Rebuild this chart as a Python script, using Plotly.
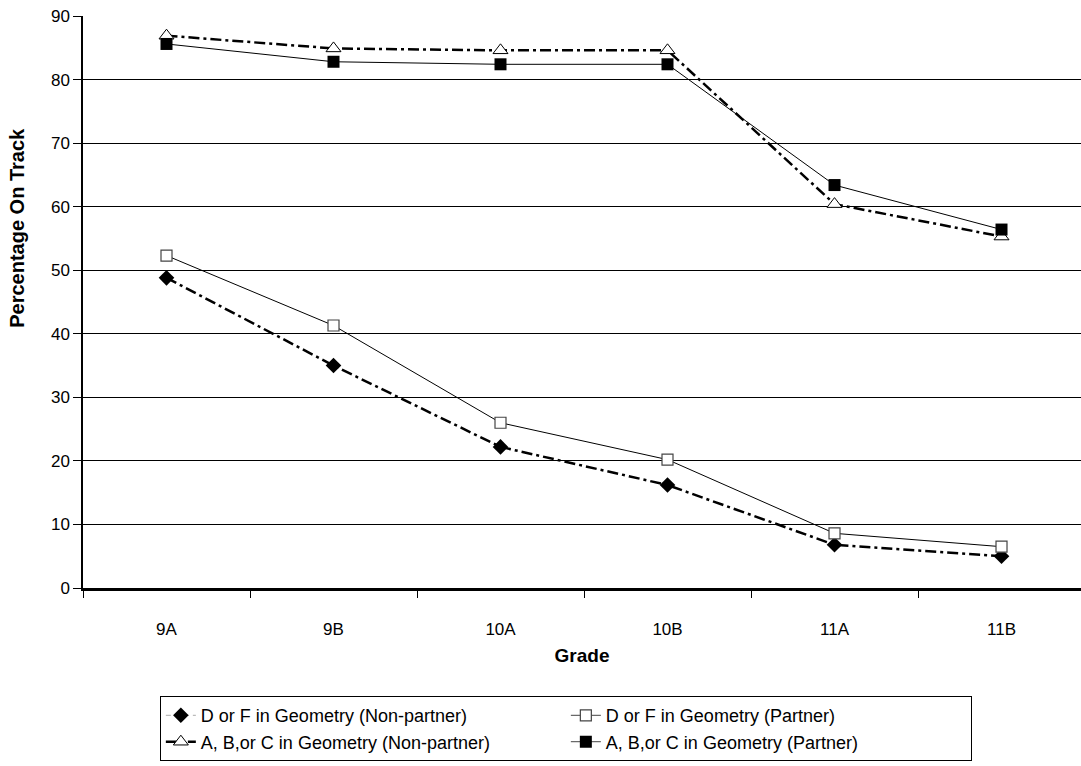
import plotly.graph_objects as go

grades = ["9A", "9B", "10A", "10B", "11A", "11B"]
df_nonpartner = [48.8, 35.0, 22.2, 16.2, 6.8, 5.0]
df_partner = [52.3, 41.3, 26.0, 20.2, 8.6, 6.5]
abc_nonpartner = [86.9, 84.9, 84.6, 84.6, 60.4, 55.3]
abc_partner = [85.6, 82.8, 82.4, 82.4, 63.4, 56.4]

names = [
    "D or F in Geometry (Non-partner)",
    "D or F in Geometry (Partner)",
    "A, B,or C in Geometry (Non-partner)",
    "A, B,or C in Geometry (Partner)",
]
y_ticks = [0, 10, 20, 30, 40, 50, 60, 70, 80, 90]
x_title = "Grade"
y_title = "Percentage On Track"

FONT = "Liberation Sans, Arial, sans-serif"
dashdot = "11px,4px,3px,4px"

fig = go.Figure()

fig.add_trace(go.Scatter(
    x=grades, y=df_nonpartner, mode="lines+markers", name=names[0], showlegend=False,
    line=dict(color="black", width=2.5, dash=dashdot),
    marker=dict(symbol="diamond", size=12, color="black", line=dict(color="black", width=0)),
))
fig.add_trace(go.Scatter(
    x=grades, y=df_partner, mode="lines+markers", name=names[1], showlegend=False,
    line=dict(color="black", width=1),
    marker=dict(symbol="square", size=11, color="white", line=dict(color="#444", width=1.2)),
))
fig.add_trace(go.Scatter(
    x=grades, y=abc_nonpartner, mode="lines+markers", name=names[2], showlegend=False,
    line=dict(color="black", width=2.5, dash=dashdot),
    marker=dict(symbol="triangle-up", size=13, color="white", line=dict(color="black", width=1)),
))
fig.add_trace(go.Scatter(
    x=grades, y=abc_partner, mode="lines+markers", name=names[3], showlegend=False,
    line=dict(color="black", width=1),
    marker=dict(symbol="square", size=12, color="black", line=dict(color="black", width=0)),
))

legend_styles = [
    dict(line=dict(color="#aaaaaa", width=1, dash="5px,4px"),
         marker=dict(symbol="diamond", size=12, color="black")),
    dict(line=dict(color="#444", width=1),
         marker=dict(symbol="square", size=11, color="white", line=dict(color="#444", width=1.2))),
    dict(line=dict(color="black", width=2.5, dash=dashdot),
         marker=dict(symbol="triangle-up", size=13, color="white", line=dict(color="black", width=1))),
    dict(line=dict(color="#444", width=1),
         marker=dict(symbol="square", size=12, color="black")),
]
for nm, st in zip(names, legend_styles):
    fig.add_trace(go.Scatter(x=[None], y=[None], mode="lines+markers", name=nm, **st))

fig.add_annotation(
    text="<b>" + y_title + "</b>", textangle=-90,
    xref="paper", yref="paper", x=-0.066, y=0.63, xanchor="center", yanchor="middle",
    showarrow=False, font=dict(family=FONT, size=20, color="black"),
)

fig.update_layout(
    width=1081, height=766,
    margin=dict(l=83, r=0, t=16, b=178),
    paper_bgcolor="white", plot_bgcolor="white",
    font=dict(family=FONT, size=17, color="black"),
    showlegend=True,
    legend=dict(
        orientation="h", x=0.077, xanchor="left", y=-0.189, yanchor="top",
        bordercolor="black", borderwidth=1, bgcolor="white",
        font=dict(family=FONT, size=18, color="black"),
        entrywidth=360, entrywidthmode="pixels",
        traceorder="normal", tracegroupgap=0,
    ),
    xaxis=dict(
        title=dict(text="<b>" + x_title + "</b>", font=dict(family=FONT, size=19), standoff=11),
        type="category", categoryorder="array", categoryarray=grades,
        tickson="boundaries", ticks="outside", ticklen=7, tickcolor="black",
        ticklabelstandoff=24,
        showline=True, linecolor="black", linewidth=2.5,
        showgrid=False, tickfont=dict(family=FONT, size=17),
        range=[-0.5, 5.476],
    ),
    yaxis=dict(
        range=[0, 90], tickvals=y_ticks, ticks="outside", ticklen=8, tickcolor="black",
        showline=True, linecolor="black", linewidth=1.5,
        showgrid=True, gridcolor="black", gridwidth=1,
        zeroline=False, tickfont=dict(family=FONT, size=17),
    ),
)

fig.write_html("out.html")
